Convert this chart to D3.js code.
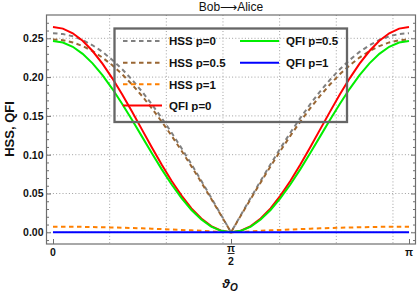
<!DOCTYPE html>
<html><head><meta charset="utf-8">
<script src="https://cdn.jsdelivr.net/npm/d3@7"></script>
<style>body{margin:0;background:#fff}svg{display:block}</style>
</head><body>
<svg id="c" width="420" height="293"></svg>
<script>
// ---- data ----
const thetaDeg = [0,5,10,15,20,25,30,35,40,45,50,55,60,65,70,75,80,85,90,95,100,105,110,115,120,125,130,135,140,145,150,155,160,165,170,175,180];
const hssP0  = [0.2565,0.2555,0.2526,0.2478,0.2410,0.2325,0.2221,0.2101,0.1965,0.1814,0.1649,0.1471,0.1283,0.1084,0.0877,0.0664,0.0445,0.0224,0,0.0224,0.0445,0.0664,0.0877,0.1084,0.1283,0.1471,0.1649,0.1814,0.1965,0.2101,0.2221,0.2325,0.2410,0.2478,0.2526,0.2555,0.2565];
const hssP05 = [0.2485,0.2476,0.2447,0.2400,0.2335,0.2252,0.2152,0.2036,0.1904,0.1757,0.1597,0.1425,0.1243,0.1050,0.0850,0.0643,0.0431,0.0217,0,0.0217,0.0431,0.0643,0.0850,0.1050,0.1243,0.1425,0.1597,0.1757,0.1904,0.2036,0.2152,0.2252,0.2335,0.2400,0.2447,0.2476,0.2485];
const hssP1  = [0.0072,0.0072,0.0071,0.0070,0.0068,0.0065,0.0062,0.0059,0.0055,0.0051,0.0046,0.0041,0.0036,0.0030,0.0025,0.0019,0.0012,0.0006,0,0.0006,0.0012,0.0019,0.0025,0.0030,0.0036,0.0041,0.0046,0.0051,0.0055,0.0059,0.0062,0.0065,0.0068,0.0070,0.0071,0.0072,0.0072];
const qfiP0  = [0.2645,0.2625,0.2565,0.2468,0.2336,0.2173,0.1984,0.1775,0.1552,0.1323,0.1093,0.0870,0.0661,0.0472,0.0309,0.0177,0.0080,0.0020,0,0.0020,0.0080,0.0177,0.0309,0.0472,0.0661,0.0870,0.1093,0.1323,0.1552,0.1775,0.1984,0.2173,0.2336,0.2468,0.2565,0.2625,0.2645];
const qfiP05 = [0.2465,0.2446,0.2391,0.2300,0.2177,0.2025,0.1849,0.1654,0.1446,0.1233,0.1019,0.0811,0.0616,0.0440,0.0288,0.0165,0.0074,0.0019,0,0.0019,0.0074,0.0165,0.0288,0.0440,0.0616,0.0811,0.1019,0.1233,0.1446,0.1654,0.1849,0.2025,0.2177,0.2300,0.2391,0.2446,0.2465];
const qfiP1  = [0,0,0,0,0,0,0,0,0,0,0,0,0,0,0,0,0,0,0,0,0,0,0,0,0,0,0,0,0,0,0,0,0,0,0,0,0];
const seriesNames = ["HSS p=0","HSS p=0.5","HSS p=1","QFI p=0","QFI p=0.5","QFI p=1"];
const yTickValues = [0,0.05,0.10,0.15,0.20,0.25];
const xTickValues = [0,90,180];
const xGridRad = [0.5,1.0,1.5,2.0,2.5,3.0];

// ---- styles ----
const colors = ["#808080","#996633","#ff8000","#ff0000","#00ee00","#0000ff"];
const dashes = ["4.5,3.5","4.5,3.5","4.5,3.5",null,null,null];
const seriesData = [hssP0,hssP05,hssP1,qfiP0,qfiP05,qfiP1];

const svg = d3.select("#c");
const L=46.5, R=415.5, T=15, B=244;
const x = d3.scaleLinear().domain([0,180]).range([53,409]);
const y = d3.scaleLinear().domain([0,0.25]).range([232.3,38.3]);
const font = "'Liberation Sans', Arial, sans-serif";

// gridlines
const grid = svg.append("g").attr("stroke","#a0a0a0").attr("stroke-width",1).attr("stroke-dasharray","1,2.2");
grid.selectAll(".vg").data(xGridRad).enter().append("line")
  .attr("x1",d=>x(d*180/Math.PI)).attr("x2",d=>x(d*180/Math.PI)).attr("y1",T).attr("y2",B);
grid.selectAll(".hg").data(yTickValues).enter().append("line")
  .attr("y1",d=>y(d)).attr("y2",d=>y(d)).attr("x1",L).attr("x2",R);

// curves
const line = d3.line().x((d,i)=>x(thetaDeg[i])).y(d=>y(d)).curve(d3.curveLinear);
seriesData.forEach((s,k)=>{
  svg.append("path").attr("d",line(s)).attr("fill","none")
    .attr("stroke",colors[k]).attr("stroke-width",2)
    .attr("stroke-dasharray",dashes[k]);
});

// frame
svg.append("rect").attr("x",L).attr("y",T).attr("width",R-L).attr("height",B-T)
  .attr("fill","none").attr("stroke","#6e6e6e").attr("stroke-width",1.2);

// axes
function styleAxis(g){ g.select(".domain").remove(); g.selectAll(".tick line").attr("stroke","#6e6e6e"); }
const minor = d3.range(-0.01,0.275,0.01).filter(v=>Math.abs(Math.round(v*100)%5)!==0);
svg.append("g").attr("transform",`translate(${L},0)`)
  .call(d3.axisLeft(y).tickValues(yTickValues).tickFormat(d3.format(".2f")).tickSize(-4.5).tickPadding(3))
  .call(styleAxis)
  .call(g=>g.selectAll("text").attr("font-family",font).attr("font-weight","bold").attr("font-size",10.5).attr("fill","#111"));
svg.append("g").attr("transform",`translate(${L},0)`)
  .call(d3.axisLeft(y).tickValues(minor).tickFormat("").tickSize(-2.5)).call(styleAxis);
svg.append("g").attr("transform",`translate(${R},0)`)
  .call(d3.axisRight(y).tickValues(yTickValues).tickFormat("").tickSize(-4.5)).call(styleAxis);
svg.append("g").attr("transform",`translate(${R},0)`)
  .call(d3.axisRight(y).tickValues(minor).tickFormat("").tickSize(-2.5)).call(styleAxis);
svg.append("g").attr("transform",`translate(0,${B})`)
  .call(d3.axisBottom(x).tickValues(xTickValues).tickFormat("").tickSize(-5)).call(styleAxis);

// x tick labels
const tl = svg.append("g").attr("font-family",font).attr("font-weight","bold").attr("font-size",10.5).attr("fill","#111").attr("text-anchor","middle");
tl.append("text").attr("x",x(0)).attr("y",256).text("0");
tl.append("text").attr("x",x(90)).attr("y",252).text("π");
tl.append("line").attr("x1",x(90)-3.5).attr("x2",x(90)+3.5).attr("y1",253.5).attr("y2",253.5).attr("stroke","#111").attr("stroke-width",0.9);
tl.append("text").attr("x",x(90)).attr("y",265).text("2");
tl.append("text").attr("x",x(180)).attr("y",256).text("π");

// axis labels and title
svg.append("text").attr("x",x(90)).attr("y",10.5).attr("text-anchor","middle")
  .attr("font-family",font).attr("font-size",12).attr("fill","#111").text("Bob⟶Alice");
svg.append("text").attr("transform","translate(14,129) rotate(-90)").attr("text-anchor","middle")
  .attr("font-family",font).attr("font-weight","bold").attr("font-size",13).attr("fill","#111").text("HSS, QFI");
const xl = svg.append("text").attr("x",x(90)-1).attr("y",288).attr("text-anchor","middle")
  .attr("font-family",font).attr("font-weight","bold").attr("font-style","italic").attr("fill","#111");
xl.append("tspan").attr("font-size",13).text("ϑ");
xl.append("tspan").attr("font-size",10).attr("dy",3).text("O");

// legend
svg.append("rect").attr("x",114.5).attr("y",28.5).attr("width",232.5).attr("height",93.5)
  .attr("fill","none").attr("stroke","#666").attr("stroke-width",2.3);
const rowsY = [41,62.7,84.3,105.5];
seriesNames.forEach((name,k)=>{
  const col = k<4?0:1, row = k<4?k:k-4;
  const x0 = col===0?123:240, ly = rowsY[row];
  svg.append("line").attr("x1",x0).attr("x2",x0+39).attr("y1",ly).attr("y2",ly)
    .attr("stroke",colors[k]).attr("stroke-width",2).attr("stroke-dasharray",dashes[k]);
  svg.append("text").attr("x",x0+46).attr("y",ly+4.2).attr("font-family",font).attr("font-weight","bold")
    .attr("font-size",11.5).attr("fill","#111").text(name);
});
</script>
</body></html>
